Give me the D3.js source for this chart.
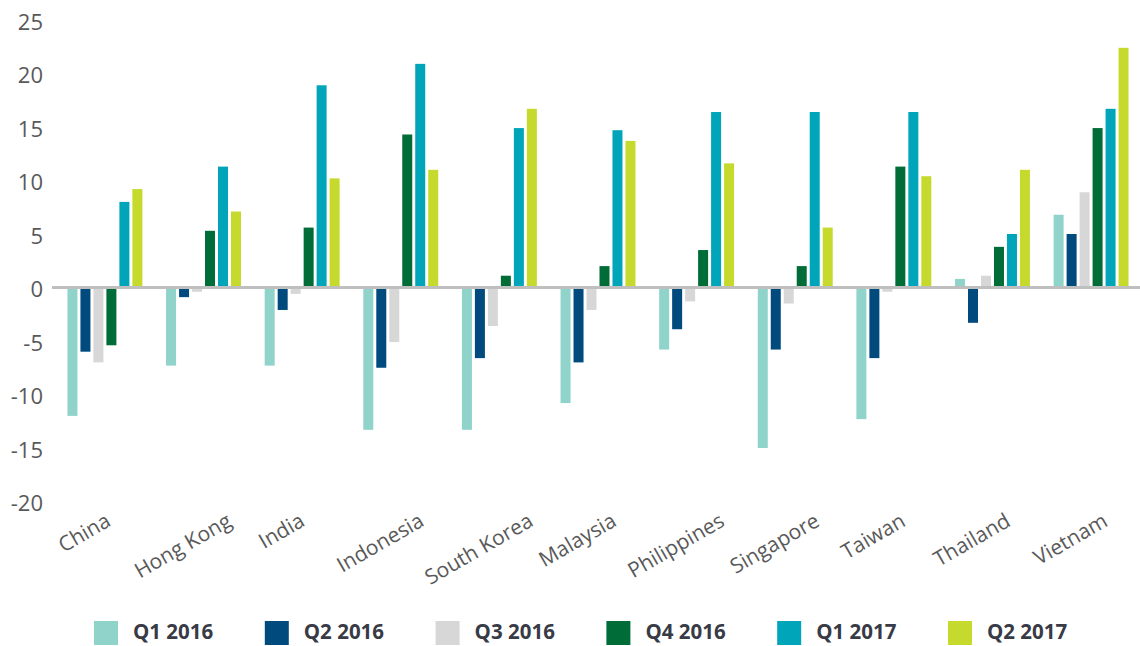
<!DOCTYPE html>
<html>
<head>
<meta charset="utf-8">
<script src="https://cdn.jsdelivr.net/npm/d3@7"></script>
<style>
  body { margin: 0; background: #fff; }
  svg { display: block; font-family: "Open Sans", sans-serif; }
</style>
</head>
<body>
<div id="chart"></div>
<script>
// categories and series
var countries = ["China", "Hong Kong", "India", "Indonesia", "South Korea", "Malaysia",
  "Philippines", "Singapore", "Taiwan", "Thailand", "Vietnam"];
var quarters = ["Q1 2016", "Q2 2016", "Q3 2016", "Q4 2016", "Q1 2017", "Q2 2017"];
var colors = ["#8fd3cb", "#004a7e", "#d7d7d7", "#006c37", "#00a5ba", "#c6d92d"];

var q1_2016 = [-12.0, -7.3, -7.3, -13.3, -13.3, -10.8, -5.8, -15.0, -12.3, 0.8, 6.8];
var q2_2016 = [-6.0, -0.9, -2.1, -7.5, -6.6, -7.0, -3.9, -5.8, -6.6, -3.3, 5.0];
var q3_2016 = [-7.0, -0.4, -0.6, -5.1, -3.6, -2.1, -1.3, -1.5, -0.4, 1.1, 8.9];
var q4_2016 = [-5.4, 5.3, 5.6, 14.3, 1.1, 2.0, 3.5, 2.0, 11.3, 3.8, 14.9];
var q1_2017 = [8.0, 11.3, 18.9, 20.9, 14.9, 14.7, 16.4, 16.4, 16.4, 5.0, 16.7];
var q2_2017 = [9.2, 7.1, 10.2, 11.0, 16.7, 13.7, 11.6, 5.6, 10.4, 11.0, 22.4];

var yTicks = [-20, -15, -10, -5, 0, 5, 10, 15, 20, 25];

var series = [q1_2016, q2_2016, q3_2016, q4_2016, q1_2017, q2_2017];

var width = 1140, height = 646;

var svg = d3.select("#chart")
  .append("svg")
  .attr("width", width)
  .attr("height", height);

// scales
var x = d3.scaleBand()
  .domain(countries)
  .range([55.6, 1140.4])
  .paddingInner(0.21)
  .paddingOuter(0.105);

var xInner = d3.scaleBand()
  .domain(quarters)
  .range([0, x.bandwidth()])
  .paddingInner(0.23)
  .paddingOuter(0.115);

var y = d3.scaleLinear()
  .domain([-20, 25])
  .range([501.5, 20]);

// y axis labels (plain hyphen for negatives, like the original)
var yAxis = svg.append("g")
  .attr("transform", "translate(43,0)")
  .call(d3.axisLeft(y).tickValues(yTicks).tickSize(0).tickPadding(0)
    .tickFormat(function (d) { return String(d); }));
yAxis.select(".domain").remove();
yAxis.selectAll("text")
  .attr("dy", "0.43em")
  .style("font-family", "'Open Sans', sans-serif")
  .style("font-size", "22px")
  .attr("fill", "#58595b");

// bars
var groups = svg.append("g").selectAll("g")
  .data(countries)
  .enter().append("g")
  .attr("transform", function (d) { return "translate(" + x(d) + ",0)"; });

groups.selectAll("rect")
  .data(function (c, i) {
    return quarters.map(function (q, j) { return { q: q, v: series[j][i], k: j }; });
  })
  .enter().append("rect")
  .attr("x", function (d) { return xInner(d.q); })
  .attr("width", xInner.bandwidth())
  .attr("y", function (d) { return Math.min(y(d.v), y(0)); })
  .attr("height", function (d) { return Math.abs(y(d.v) - y(0)); })
  .attr("fill", function (d) { return colors[d.k]; });

// zero line
svg.append("line")
  .attr("x1", 52)
  .attr("x2", width)
  .attr("y1", y(0))
  .attr("y2", y(0))
  .attr("stroke", "#bfbfbf")
  .attr("stroke-width", 3);

// rotated category labels
svg.append("g").selectAll("text")
  .data(countries)
  .enter().append("text")
  .text(function (d) { return d; })
  .style("font-size", "21px")
  .attr("fill", "#595959")
  .attr("text-anchor", "end")
  .attr("transform", function (d) {
    var len = this.getComputedTextLength();
    var cx = x(d) + x.bandwidth() / 2 + 0.433 * len - 17;
    return "translate(" + cx + ",525) rotate(-30)";
  });

// legend
var legend = svg.append("g").selectAll("g")
  .data(quarters)
  .enter().append("g")
  .attr("transform", function (d, i) { return "translate(" + (94 + i * 170.8) + ",621)"; });

legend.append("rect")
  .attr("width", 24)
  .attr("height", 24)
  .attr("fill", function (d, i) { return colors[i]; });

legend.append("text")
  .attr("x", 39)
  .attr("y", 18)
  .text(function (d) { return d; })
  .style("font-size", "20.5px")
  .style("font-weight", "bold")
  .attr("fill", "#383b46");
</script>
</body>
</html>
